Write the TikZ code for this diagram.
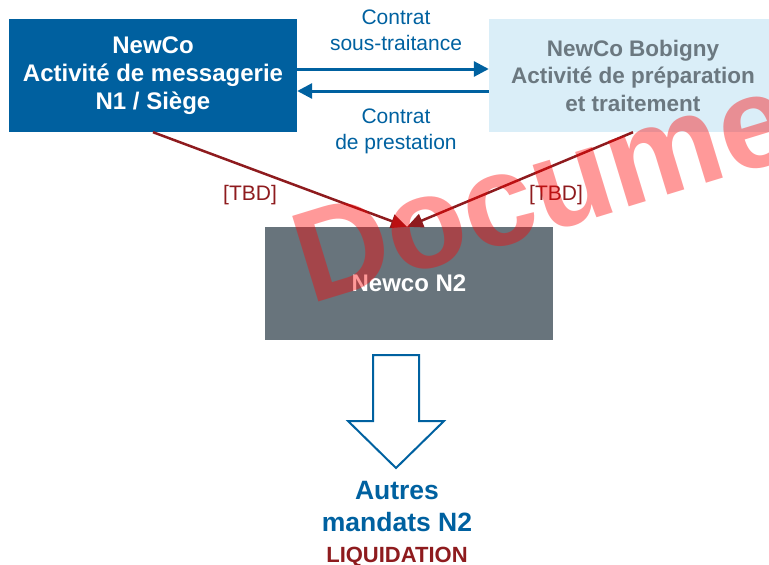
\documentclass[tikz,border=0pt]{standalone}
\usepackage{fontspec}
\setmainfont{Liberation Sans}
\usetikzlibrary{arrows.meta}
\definecolor{siege}  {HTML}{00609F}
\definecolor{bobfill}{HTML}{DAEEF8}
\definecolor{bobtext}{HTML}{6B7880}
\definecolor{n2fill} {HTML}{68747C}
\definecolor{label}  {HTML}{0061A0}
\definecolor{link}   {HTML}{8E1B1E}

\begin{document}
\begin{tikzpicture}[x=1pt,y=-1pt,
    box/.style={minimum width=288pt,minimum height=113pt,inner sep=0pt,align=center,
                font=\fontsize{24}{28}\selectfont\bfseries},
    contrat/.style={align=center,text=label,font=\fontsize{21}{26}\selectfont},
    tbd/.style={text=link,font=\fontsize{21}{25}\selectfont},
    outcome/.style={text=label,anchor=base,font=\fontsize{26.5}{32}\selectfont\bfseries},
    flow/.style={draw=label,line width=3pt,-{Triangle[length=15pt,width=15pt]}},
    feed/.style={draw=link,line width=2.5pt,-{Triangle[length=16pt,width=14pt]}}]
  \useasboundingbox (0,0) rectangle (769,565);
  % the three companies
  \node[box,fill=siege,text=white] (siege) at (153,75.5)
       {NewCo\\Activité de messagerie\\N1 / Siège};
  \node[box,fill=bobfill,text=bobtext,font=\fontsize{22.5}{27.5}\selectfont\bfseries]
       (bobigny) at (633,75.5)
       {NewCo Bobigny\\Activité de préparation\\et traitement};
  \node[box,fill=n2fill,text=white] (n2) at (409,283.5) {Newco N2};
  % contracts between N1 and Bobigny
  \draw[flow] (siege.east |- 0,69) -- (bobigny.west |- 0,69);
  \draw[flow] (bobigny.west |- 0,91) -- (siege.east |- 0,91);
  \node[contrat] (sous) at (396,30) {Contrat\\sous-traitance};
  \node[contrat] (presta) at (396,131) {Contrat\\de prestation};
  % links to N2
  \draw[feed] (siege.south) -- ([xshift=-2pt]n2.north);
  \draw[feed] (bobigny.south) -- ([xshift=-2pt]n2.north);
  \node[tbd] (tbdl) at (250,195) {[TBD]};
  \node[tbd] (tbdr) at (556,195) {[TBD]};
  % outcome
  \draw[draw=label,line width=2pt,line join=miter]
    (373,355) -- (419,355) -- (419,421) -- (444,421) -- (396,468)
    -- (348,421) -- (373,421) -- cycle;
  \node[outcome] (autres) at (397,499) {Autres};
  \node[outcome] (mandats) at (397,531.5) {mandats N2};
  \node[text=link,font=\fontsize{22}{26}\selectfont\bfseries,anchor=base] (liq)
       at (397,562) {LIQUIDATION};
  % watermark
  \node[rotate=17,anchor=base west,inner sep=0pt,text=red,opacity=0.4,
        font=\fontsize{130}{130}\selectfont\bfseries] (stamp) at (310,305) {Document};
\end{tikzpicture}
\end{document}
